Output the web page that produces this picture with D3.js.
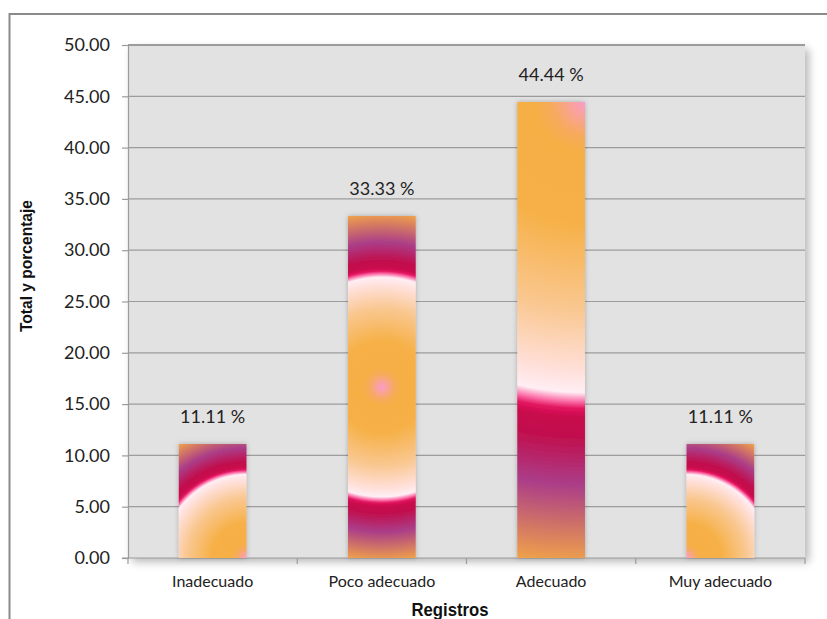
<!DOCTYPE html>
<html>
<head>
<meta charset="utf-8">
<script src="https://cdn.jsdelivr.net/npm/d3@7"></script>
<style>
  html, body { margin: 0; padding: 0; background: #fff; }
  svg { display: block; }
  .tick text { font-family: Lato, "Open Sans", sans-serif; fill: #222; }
  .narrow { font-family: "Liberation Sans", Arial, sans-serif; }
</style>
</head>
<body>
<svg id="chart" width="827" height="619"></svg>
<script>
// ---- data ----
const categories = ["Inadecuado", "Poco adecuado", "Adecuado", "Muy adecuado"];
const values = [11.11, 33.33, 44.44, 11.11];
const valueLabels = ["11.11 %", "33.33 %", "44.44 %", "11.11 %"];
const yTicks = [0, 5, 10, 15, 20, 25, 30, 35, 40, 45, 50];
const xTitle = "Registros";
const yTitle = "Total y porcentaje";
// where each bar's radial fill is centred (fraction of bar width / height from top-left)
const gradAnchorX = [1, 0.5, 1, 0];
const gradAnchorY = [1, 0.5, 0, 1];

const W = 827, H = 619;
const plot = { left: 128, right: 805, top: 45, bottom: 558 };

const svg = d3.select("#chart");
const defs = svg.append("defs");

// outer chart border
svg.append("rect")
  .attr("x", 9.5).attr("y", 14).attr("width", 900).attr("height", 700)
  .attr("fill", "#fff").attr("stroke", "#8a8a8a").attr("stroke-width", 2);

// drop shadow filter
const f = defs.append("filter").attr("id", "shadow")
  .attr("x", "-5%").attr("y", "-5%").attr("width", "115%").attr("height", "115%");
f.append("feDropShadow").attr("dx", 4).attr("dy", 4).attr("stdDeviation", 4)
  .attr("flood-color", "#000").attr("flood-opacity", 0.28);
const f2 = defs.append("filter").attr("id", "barshadow")
  .attr("x", "-20%").attr("y", "-10%").attr("width", "140%").attr("height", "120%");
f2.append("feDropShadow").attr("dx", 0).attr("dy", 0).attr("stdDeviation", 2.5)
  .attr("flood-color", "#000").attr("flood-opacity", 0.25);

const x = d3.scaleBand().domain(categories).range([plot.left, plot.right]).padding(0);
const y = d3.scaleLinear().domain([0, 50]).range([plot.bottom, plot.top]);

// plot background
svg.append("rect")
  .attr("x", plot.left).attr("y", plot.top)
  .attr("width", plot.right - plot.left).attr("height", plot.bottom - plot.top)
  .attr("fill", "#e2e2e2").attr("filter", "url(#shadow)");

// gridlines
svg.append("g").selectAll("line").data(yTicks.filter(d => d > 0)).join("line")
  .attr("x1", plot.left).attr("x2", plot.right)
  .attr("y1", d => y(d)).attr("y2", d => y(d))
  .attr("stroke", "#9c9c9c").attr("stroke-width", d => d === 50 ? 1.8 : 1.2);

// y axis
const yAxis = svg.append("g").attr("transform", `translate(${plot.left},0)`)
  .call(d3.axisLeft(y).tickValues(yTicks).tickFormat(d3.format(".2f")).tickSizeOuter(0).tickSize(6).tickPadding(12));
yAxis.select(".domain").attr("stroke", "#9c9c9c").attr("stroke-width", 1.2);
yAxis.selectAll(".tick line").attr("stroke", "#9c9c9c").attr("stroke-width", 1.2);
yAxis.selectAll(".tick text").attr("font-size", 18);

// x axis
const xAxis = svg.append("g").attr("transform", `translate(0,${plot.bottom})`)
  .call(d3.axisBottom(x).tickSize(0).tickPadding(18).tickSizeOuter(0));
xAxis.select(".domain").remove();
xAxis.append("line").attr("x1", plot.left - 6).attr("x2", plot.right)
  .attr("y1", 0).attr("y2", 0).attr("stroke", "#9c9c9c").attr("stroke-width", 1.2);
const edges = categories.map(c => x(c)).concat([x(categories[categories.length - 1]) + x.bandwidth()]);
xAxis.selectAll(".edge").data(edges).join("line").attr("class", "edge")
  .attr("x1", d => d).attr("x2", d => d).attr("y1", 0).attr("y2", 6)
  .attr("stroke", "#9c9c9c").attr("stroke-width", 1.2);
xAxis.selectAll(".tick text").attr("font-size", 16);

// bar gradients
const stops = [
  [0.00, "#fb9cc9"], [0.07, "#f7aa5e"], [0.11, "#f6af45"], [0.26, "#f6b046"],
  [0.45, "#f9c790"], [0.58, "#ffdfd8"], [0.63, "#ffeef4"], [0.65, "#fb6ea8"],
  [0.665, "#e2165f"], [0.685, "#c8084b"], [0.73, "#c0114f"], [0.83, "#ab3d88"], [1.0, "#f0a24a"]
];
const barW = x.bandwidth() * 0.4;
const bars = categories.map((c, i) => {
  const x0 = x(c) + (x.bandwidth() - barW) / 2;
  const y0 = y(values[i]);
  const h = y(0) - y0;
  const cx = x0 + gradAnchorX[i] * barW, cy = y0 + gradAnchorY[i] * h;
  const r = Math.max(
    Math.hypot(cx - x0, cy - y0), Math.hypot(cx - x0 - barW, cy - y0),
    Math.hypot(cx - x0, cy - y0 - h), Math.hypot(cx - x0 - barW, cy - y0 - h));
  const g = defs.append("radialGradient").attr("id", "g" + i)
    .attr("gradientUnits", "userSpaceOnUse")
    .attr("cx", cx).attr("cy", cy).attr("r", r).attr("fx", cx).attr("fy", cy);
  stops.forEach(s => g.append("stop").attr("offset", s[0]).attr("stop-color", s[1]));
  return { c, v: values[i], label: valueLabels[i], x0, y0, h, i };
});

svg.append("g").selectAll("rect").data(bars).join("rect")
  .attr("x", d => d.x0).attr("y", d => d.y0).attr("width", barW).attr("height", d => d.h)
  .attr("fill", d => `url(#g${d.i})`).attr("filter", "url(#barshadow)");

// value labels
svg.append("g").selectAll("text").data(bars).join("text")
  .attr("x", d => d.x0 + barW / 2).attr("y", d => d.y0 - 21)
  .attr("text-anchor", "middle")
  .attr("font-family", "Lato, 'Open Sans', sans-serif").attr("font-size", 18).attr("fill", "#222")
  .text(d => d.label);

// axis titles
svg.append("text").attr("class", "narrow")
  .attr("x", 450).attr("y", 616).attr("text-anchor", "middle")
  .attr("font-size", 19).attr("font-weight", "bold").attr("fill", "#111")
  .attr("textLength", 77).attr("lengthAdjust", "spacingAndGlyphs")
  .text(xTitle);
svg.append("text").attr("class", "narrow")
  .attr("transform", "translate(32,266) rotate(-90)").attr("text-anchor", "middle")
  .attr("font-size", 16.5).attr("font-weight", "bold").attr("fill", "#111")
  .attr("textLength", 132).attr("lengthAdjust", "spacingAndGlyphs")
  .text(yTitle);
</script>
</body>
</html>
